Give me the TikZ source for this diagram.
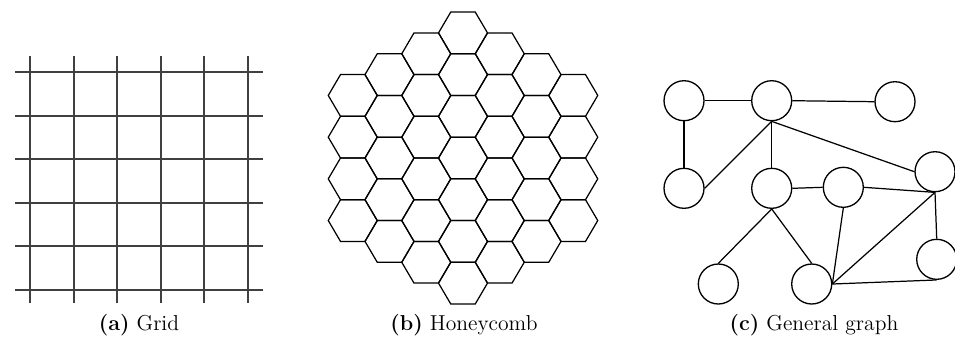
\documentclass[tikz,border=0pt]{standalone}
\usepackage{tikz}
\usetikzlibrary{positioning, calc}
\definecolor{gridgray}{HTML}{404040}
\tikzset{
	gridline/.style={line width=0.85pt, gridgray}
}
\tikzset{
	hexcell/.pic={
			\draw[line width=0.7pt, line join=miter]
			(-24.5,0) --
			(-12.25,20.85) --
			(12.25,20.85) --
			(24.5,0) --
			(12.25,-20.85) --
			(-12.25,-20.85) --
			cycle;
		}
}
\tikzset{
	gnode/.style={circle, draw, line width=0.75pt, minimum size=0.8cm, inner sep=0pt}
}
\tikzset{
	captiontext/.style={font=\fontsize{12.3}{14}\selectfont, inner sep=0pt}
}

\begin{document}
\begin{tikzpicture}[x=0.02cm, y=-0.02cm]

			\useasboundingbox (0,0) rectangle (955,343);

			% grid
			\begin{scope}
				\foreach \gx in {30,74,117,161,204,248} {
						\draw[gridline] (\gx,56) -- (\gx,303);
					}
				\foreach \gy in {72,116,159,203,246,290} {
						\draw[gridline] (15,\gy) -- (263,\gy);
					}
			\end{scope}

			% honeycomb
			\begin{scope}
				\foreach \k in {-3,...,3} {
						\pgfmathtruncatemacro\ncells{7-abs(\k)}
						\foreach \j in {1,...,\ncells} {
								\pic at ({463+\k*36.75},{158+(\j-(\ncells+1)/2)*41.7}) {hexcell};
							}
					}
			\end{scope}

			% general graph
			\begin{scope}
				\node[gnode] (v1) at (684,100.7) {};
				\node[gnode] (v2) at (771.7,100.7) {};
				\node[gnode] (v3) at (895,101.7) {};
				\node[gnode] (v4) at (684,188.3) {};
				\node[gnode] (v5) at (771.7,188.3) {};
				\node[gnode] (v6) at (843.3,187.3) {};
				\node[gnode] (v7) at (935,171.7) {};
				\node[gnode] (v8) at (718.3,284) {};
				\node[gnode] (v9) at (811.7,284) {};
				\node[gnode] (v10) at (936.7,259.3) {};

				\draw[line width=0.7pt] (v1.east) -- (v2.west);
				\draw[line width=0.7pt] (v2.east) -- (v3.west);
				\draw[line width=0.7pt] (v1.south) -- (v4.north);
				\draw[line width=0.7pt] (v2.south) -- (v4.east);
				\draw[line width=0.7pt] (v2.south) -- (v5.north);
				\draw[line width=0.7pt] (v2.south) -- (v7.west);
				\draw[line width=0.7pt] (v5.east) -- (v6.west);
				\draw[line width=0.7pt] (v6.east) -- (v7.south);
				\draw[line width=0.7pt] (v5.south) -- (v8.north);
				\draw[line width=0.7pt] (v5.south) -- (v9.north);
				\draw[line width=0.7pt] (v6.south) -- (v9.east);
				\draw[line width=0.7pt] (v7.south) -- (v9.east);
				\draw[line width=0.7pt] (v7.south) -- (v10.north);
				\draw[line width=0.7pt] (v9.east) -- (v10.south);
			\end{scope}

			% captions
			\node[captiontext] (capa) at (139,325) {\textbf{(a)} Grid};
			\node[captiontext] (capb) at (464,325) {\textbf{(b)} Honeycomb};
			\node[captiontext] (capc) at (814,325) {\textbf{(c)} General graph};

		\end{tikzpicture}
\end{document}
